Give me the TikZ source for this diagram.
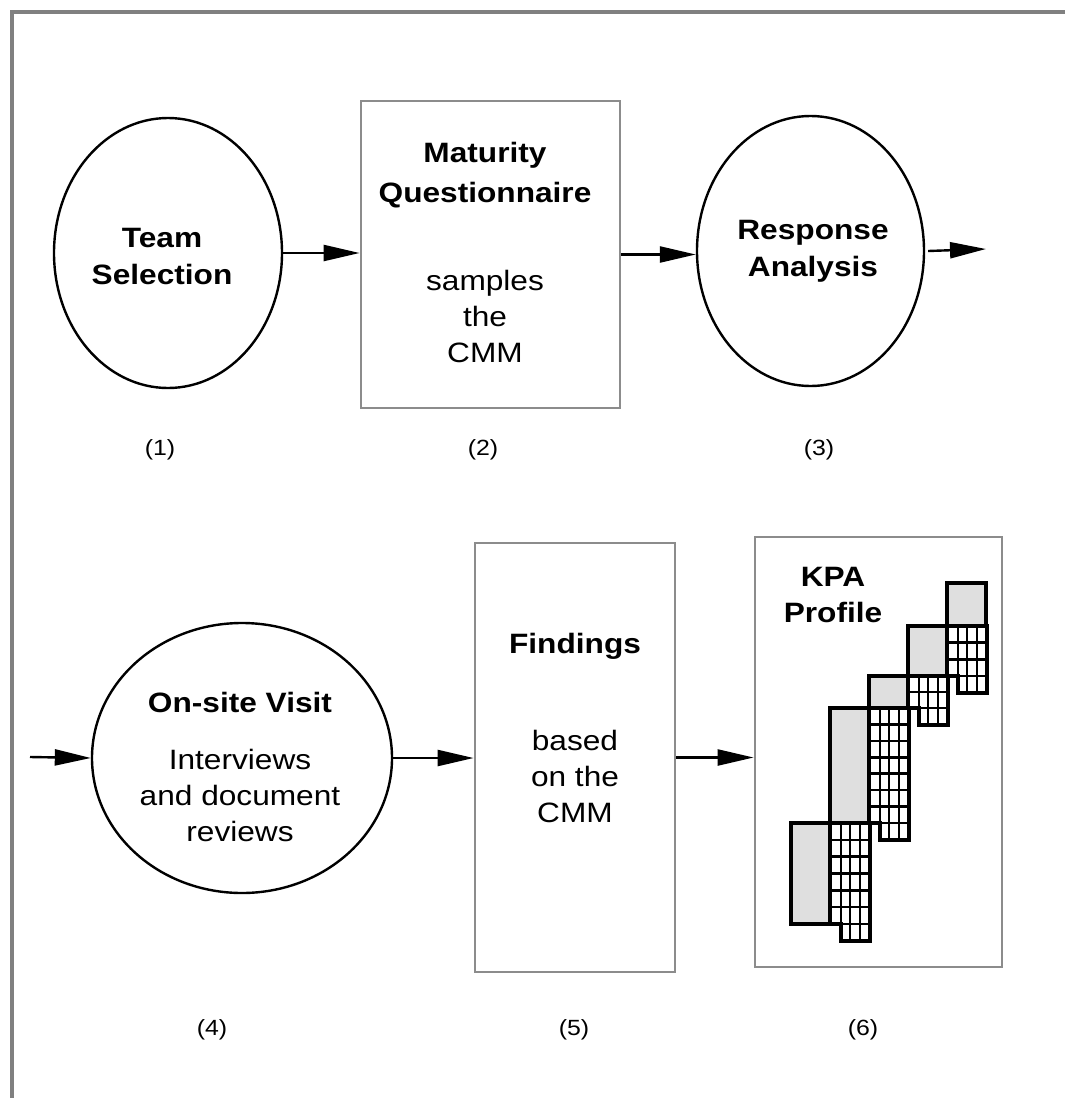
\documentclass[tikz,border=0pt]{standalone}
\usepackage{fontspec}
\setmainfont[FakeStretch=1.13]{Liberation Sans}
\usetikzlibrary{shapes.geometric}
\usetikzlibrary{arrows.meta}

\tikzset{
    stage/.style={draw=black, line width=2.4pt, ellipse, inner sep=0pt},
    sheet/.style={draw=black!45, line width=2.8pt, inner sep=0pt},
    flow/.style={line width=2.4pt, -{Triangle[length=36pt,width=16pt]}},
    txt/.style={font=\fontsize{28}{36}\selectfont, align=center},
    caption/.style={font=\fontsize{22}{26}\selectfont},
    graybar/.style={fill=gray!25, draw=black, line width=3.2pt},
    gridline/.style={draw=black, line width=2.6pt},
}

\begin{document}
\begin{tikzpicture}[x=1pt, y=-1pt]
    \useasboundingbox (0,0) rectangle (1065,1098);
    \draw[color=gray, line width=4pt] (12,1098) -- (12,12) -- (1065,12);

    \node[stage, minimum width=228pt, minimum height=270pt] (team) at (168,253) {};
    \node[txt] (teamtxt) at (162,256.5) {\textbf{Team}\\[1pt]\textbf{Selection}};
    \node[sheet, minimum width=259pt, minimum height=307pt] (quest) at (490.5,254.5) {};
    \node[txt] (questtxt) at (485,252)
        {\textbf{Maturity}\\[4pt]\textbf{Questionnaire}\\[52pt]samples\\the\\CMM};
    \node[stage, minimum width=227pt, minimum height=270pt] (resp) at (810.5,251) {};
    \node[txt] (resptxt) at (813,251) {\textbf{Response}\\[1pt]\textbf{Analysis}};
    \coordinate (out) at (986,249);

    \node[stage, minimum width=300pt, minimum height=270pt] (visit) at (242,758) {};
    \node[txt] (visittxt) at (240,767)
        {\textbf{On-site Visit}\\[21pt]Interviews\\and document\\reviews};
    \node[sheet, minimum width=200pt, minimum height=429pt] (find) at (575,757.5) {};
    \node[txt] (findtxt) at (575,728) {\textbf{Findings}\\[61pt]based\\on the\\CMM};
    \node[sheet, minimum width=247pt, minimum height=430pt] (kpa) at (878.5,752) {};
    \node[txt] (kpatxt) at (833,595) {\textbf{KPA}\\\textbf{Profile}};
    \coordinate (in) at (30,757);

    \node[caption] (n1) at (160,450) {(1)};
    \node[caption] (n2) at (483,450) {(2)};
    \node[caption] (n3) at (819,450) {(3)};
    \node[caption] (n4) at (212,1030) {(4)};
    \node[caption] (n5) at (574,1030) {(5)};
    \node[caption] (n6) at (863,1030) {(6)};

    \draw[flow] (team.east) -- (quest.west |- team.east);
    \draw[flow] (quest.east) -- (resp.west |- quest.east);
    \draw[flow] (resp.east) ++(3,0) -- (out);
    \draw[flow] (in) -- (visit.west);
    \draw[flow] (visit.east) -- (find.west |- visit.east);
    \draw[flow] (find.east) -- (kpa.west |- find.east);

    % profile bars: left x / top / bottom / rows
    \foreach \xa/\ya/\yb/\n in {791/823/924/6, 830/708/823/7, 869/676/708/2, 908/626/676/3} {
        \pgfmathsetmacro\xb{\xa+39}
        \pgfmathsetmacro\xc{\xa+79}
        \pgfmathsetmacro\yc{\yb+17}
        \foreach \k in {1,...,\n}
            \draw[gridline] (\xb,{\ya+\k*(\yb-\ya)/\n}) -- (\xc,{\ya+\k*(\yb-\ya)/\n});
        \foreach \dx in {11,20,30}
            \draw[gridline] (\xb+\dx,\ya) -- (\xb+\dx,\yc);
        \draw[graybar, fill=none] (\xb,\ya) -- (\xc,\ya) -- (\xc,\yc)
            -- (\xb+11,\yc) -- (\xb+11,\yb) -- (\xb,\yb);
        \draw[graybar] (\xa,\ya) rectangle (\xb,\yb);
    }
    \draw[graybar] (947,583) rectangle (986,626);
\end{tikzpicture}
\end{document}
